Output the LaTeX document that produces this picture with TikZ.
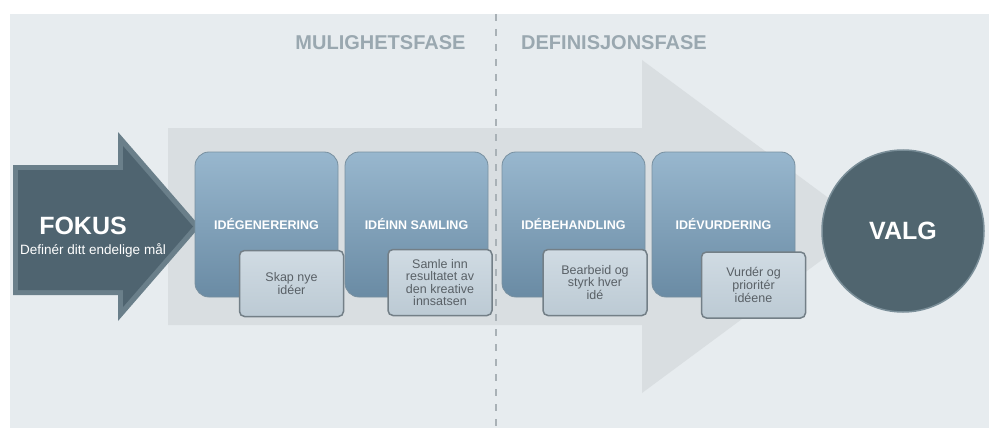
\documentclass[tikz,border=0pt]{standalone}
\usepackage{fontspec}
\setmainfont{Liberation Sans}
\definecolor{bgc}{HTML}{E7ECEF}
\definecolor{bigarrow}{HTML}{D9DEE1}
\definecolor{phasec}{HTML}{9AA8B0}
\definecolor{dashc}{HTML}{A9B1B6}
\definecolor{fokout}{HTML}{6A7F8A}
\definecolor{fokin}{HTML}{4F6470}
\definecolor{boxtop}{HTML}{98B7CE}
\definecolor{boxbot}{HTML}{6A8BA4}
\definecolor{boxline}{HTML}{7890A0}
\definecolor{subtop}{HTML}{D0DBE3}
\definecolor{subbot}{HTML}{BCCAD4}
\definecolor{subline}{HTML}{737F87}
\definecolor{subtext}{HTML}{596066}
\definecolor{valgc}{HTML}{50656F}
\definecolor{valgrim}{HTML}{7A8E98}
\begin{document}
\begin{tikzpicture}[x=1pt,y=-1pt,
  phase/.style={font=\fontsize{20}{24}\selectfont\bfseries, text=phasec, inner sep=0pt},
  bigbox/.style={rounded corners=14pt, top color=boxtop, bottom color=boxbot, draw=boxline,
    line width=0.8pt, minimum width=143pt, minimum height=145pt, text=white,
    font=\fontsize{12.5}{14}\selectfont\bfseries, inner sep=0pt},
  subbox/.style={rounded corners=5pt, top color=subtop, bottom color=subbot, draw=subline,
    line width=1.5pt, minimum width=104pt, minimum height=66pt, align=center, text=subtext,
    font=\fontsize{12.5}{12.6}\selectfont, inner sep=0pt},
  darklabel/.style={text=white, inner sep=0pt, font=\bfseries}]
\useasboundingbox (0,0) rectangle (989,428);
% background
\fill[bgc] (10,14) rectangle (989,428);
% large faint process arrow
\fill[bigarrow] (168,128) -- (642,128) -- (642,60) -- (867,226.5) -- (642,393) -- (642,325) -- (168,325) -- cycle;
% phase divider
\coordinate (dtop) at (496,14);
\coordinate (dbot) at (496,428);
\draw[dashc, line width=1.3pt, dash pattern=on 7pt off 8pt] (dtop) -- (dbot);
% phase headings
\node[phase] (mul) at (380.5,43) {MULIGHETSFASE};
\node[phase] (def) at (614,43) {DEFINISJONSFASE};
% FOKUS arrow
\fill[fokout] (13,165) -- (118,165) -- (118,132) -- (200,226.5) -- (118,321) -- (118,295) -- (13,295) -- cycle;
\fill[fokin] (18,170) -- (123,170) -- (123,146) -- (193,226.5) -- (123,307) -- (123,290) -- (18,290) -- cycle;
\node[darklabel, font=\fontsize{25}{28}\selectfont\bfseries] (fokus) at (83,226) {FOKUS};
\node[text=white, inner sep=0pt, font=\fontsize{13.5}{15}\selectfont] (fokussub) at (93,250) {Definér ditt endelige mål};
% phase boxes
\node[bigbox] (b1) at (266.5,224.5) {IDÉGENERERING};
\node[bigbox] (b2) at (416.5,224.5) {IDÉINN SAMLING};
\node[bigbox] (b3) at (573.5,224.5) {IDÉBEHANDLING};
\node[bigbox] (b4) at (723.5,224.5) {IDÉVURDERING};
\node[subbox] (s1) at (291.5,283.5) {Skap nye\\idéer};
\node[subbox] (s2) at (440,282.5) {Samle inn\\resultatet av\\den kreative\\innsatsen};
\node[subbox] (s3) at (595,282.5) {Bearbeid og\\styrk hver\\idé};
\node[subbox] (s4) at (753.5,285) {Vurdér og\\prioritér\\idéene};
% VALG
\node[circle, fill=valgc, draw=valgrim, line width=1.5pt, minimum size=162pt, inner sep=0pt,
  text=white, font=\fontsize{25}{28}\selectfont\bfseries] (valg) at (903,231) {VALG};
\end{tikzpicture}
\end{document}
